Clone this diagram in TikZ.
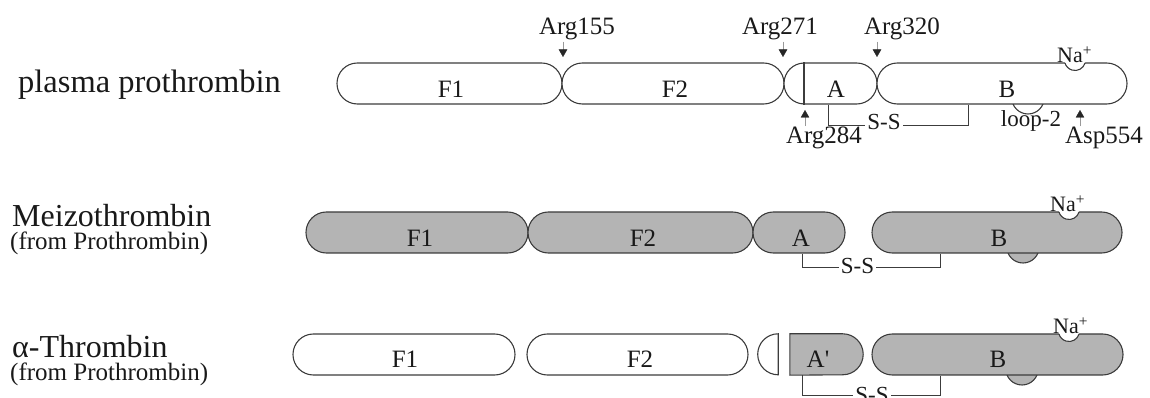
\documentclass[tikz,border=0pt]{standalone}
\usepackage{fontspec}
\setmainfont{Liberation Serif}
\usetikzlibrary{arrows.meta}
\definecolor{ink}{RGB}{60,60,60}
\definecolor{segfill}{RGB}{180,180,180}
\definecolor{txt}{RGB}{25,25,25}
\begin{document}
\begin{tikzpicture}[x=1pt,y=1pt,
  edge/.style={draw=ink, line width=1.1pt},
  seg/.style={edge, rounded corners=20.4pt, minimum height=41pt, inner sep=0pt},
  whiteseg/.style={seg, fill=white},
  grayseg/.style={seg, fill=segfill},
  hold/.style={draw=none, minimum height=41pt, inner sep=0pt},
  lab/.style={anchor=base, inner sep=0pt, text=txt, font=\fontsize{25}{30}\selectfont},
  arglab/.style={anchor=base, inner sep=1pt, text=txt, font=\fontsize{25}{30}\selectfont},
  small/.style={anchor=base, inner sep=0pt, text=txt, font=\fontsize{23}{28}\selectfont},
  nalab/.style={anchor=base west, inner sep=0pt, text=txt, font=\fontsize{22}{26}\selectfont},
  sslab/.style={fill=white, inner xsep=2pt, inner ysep=0pt, text=txt, font=\fontsize{23}{28}\selectfont},
  title/.style={anchor=base west, inner sep=0pt, text=txt, font=\fontsize{32.5}{38}\selectfont},
  subtitle/.style={anchor=base west, inner sep=0pt, text=txt, font=\fontsize{25}{30}\selectfont},
  argline/.style={draw=black!40, line width=0.4pt, -{Triangle[width=8.5pt,length=7.5pt,color=black!85]}}
]
\useasboundingbox (0,0) rectangle (1150,398);

% ---------------- titles
\node[title] (t1) at (18,305) {plasma prothrombin};
\node[title, font=\fontsize{32}{38}\selectfont] (t2) at (12,171) {Meizothrombin};
\node[subtitle] (t2s) at (10,148) {(from Prothrombin)};
\node[title, font=\fontsize{32}{38}\selectfont] (t3) at (12,40) {α-Thrombin};
\node[subtitle] (t3s) at (10,17) {(from Prothrombin)};

% ---------------- row 1: plasma prothrombin
\filldraw[edge, fill=white] (1028,300.25) circle (16.25);
\node[whiteseg, minimum width=225pt] (pF1) at (449.5,314.5) {};
\node[whiteseg, minimum width=222pt] (pF2) at (673,314.5) {};
\node[whiteseg, minimum width=93pt] (pA) at (830.5,314.5) {};
\node[whiteseg, minimum width=250pt] (pB) at (1002,314.5) {};
\draw[edge] ([xshift=20.5pt]pA.north west) -- ([xshift=20.5pt]pA.south west);
\fill[white] (1075,338) circle (10.5);
\draw[edge] (1085.06,335) arc[start angle=-16.6, end angle=-163.4, radius=10.5];
\node[nalab] (pNa) at (1057,335) {Na\textsuperscript{+}};

\node[lab] (lpF1) at (451,300) {F1};
\node[lab] (lpF2) at (675,300) {F2};
\node[lab] (lpA) at (836,300) {A};
\node[lab] (lpB) at (1007,300) {B};

\node[arglab] (a155) at (577,363) {Arg155};
\node[arglab] (a271) at (780,363) {Arg271};
\node[arglab] (a320) at (902,363) {Arg320};
\coordinate (t155) at (563,341);
\coordinate (t271) at (783,341);
\coordinate (t320) at (877,341);
\draw[argline] (t155 |- a155.south) -- (t155);
\draw[argline] (t271 |- a271.south) -- (t271);
\draw[argline] (t320 |- a320.south) -- (t320);

\node[arglab] (a284) at (824,254) {Arg284};
\node[arglab] (a554) at (1104,254) {Asp554};
\coordinate (t284) at (805,288);
\coordinate (t554) at (1080,288);
\draw[argline] (t284 |- a284.north) -- (t284);
\draw[argline] (t554 |- a554.north) -- (t554);

\node[small] (loop) at (1031,271) {loop-2};

\coordinate (ssL1) at (828,273);
\coordinate (ssR1) at (968,273);
\draw[edge, line width=0.9pt] (ssL1 |- pA.south) -- (ssL1) -- (ssR1) -- (ssR1 |- pB.south);
\node[sslab] (ss1) at (884,276) {S-S};

% ---------------- row 2: meizothrombin
\filldraw[edge, fill=segfill] (1023,151.25) circle (16.25);
\node[grayseg, minimum width=222pt] (mF1) at (417,165.5) {};
\node[grayseg, minimum width=225pt] (mF2) at (640.5,165.5) {};
\node[grayseg, minimum width=92pt] (mA) at (799,165.5) {};
\node[grayseg, minimum width=250pt] (mB) at (997,165.5) {};
\fill[white] (1069,189) circle (10.5);
\draw[edge] (1079.06,186) arc[start angle=-16.6, end angle=-163.4, radius=10.5];
\node[nalab] (mNa) at (1050,186) {Na\textsuperscript{+}};

\node[lab] (lmF1) at (420,151) {F1};
\node[lab] (lmF2) at (643,151) {F2};
\node[lab] (lmA) at (801,151) {A};
\node[lab] (lmB) at (999,151) {B};

\coordinate (ssL2) at (802,131);
\coordinate (ssR2) at (940,131);
\draw[edge, line width=0.9pt] (ssL2 |- mA.south) -- (ssL2) -- (ssR2) -- (ssR2 |- mB.south);
\node[sslab] (ss2) at (857.5,132) {S-S};

% ---------------- row 3: alpha-thrombin
\filldraw[edge, fill=segfill] (1022,29.25) circle (16.25);
\node[whiteseg, minimum width=222pt] (aF1) at (404,43.5) {};
\node[whiteseg, minimum width=221pt] (aF2) at (637.5,43.5) {};
\node[hold, minimum width=20.5pt] (aD) at (767.75,43.5) {};
\draw[edge, fill=white] (aD.north east) arc[start angle=90, end angle=270, radius=20.5] -- cycle;
\node[hold, minimum width=73pt] (aA) at (826.5,43.5) {};
\draw[edge, fill=segfill] (aA.south west) -- (aA.north west) -- ([xshift=-20.5pt]aA.north east)
   arc[start angle=90, end angle=-90, radius=20.5] -- cycle;
\node[grayseg, minimum width=251pt] (aB) at (997.5,43.5) {};
\fill[white] (1069,67) circle (10.5);
\draw[edge] (1079.06,64) arc[start angle=-16.6, end angle=-163.4, radius=10.5];
\node[nalab] (aNa) at (1053,64) {Na\textsuperscript{+}};

\node[lab] (laF1) at (405,30) {F1};
\node[lab] (laF2) at (640,30) {F2};
\node[lab] (laA) at (818,30) {A\textquotesingle};
\node[lab] (laB) at (998,30) {B};

\coordinate (ssL3) at (802,3);
\coordinate (ssR3) at (940,3);
\draw[edge, line width=0.9pt] (ssL3 |- aA.south) -- (ssL3) -- (ssR3) -- (ssR3 |- aB.south);
\node[sslab] (ss3) at (872,2.5) {S-S};
\end{tikzpicture}
\end{document}
